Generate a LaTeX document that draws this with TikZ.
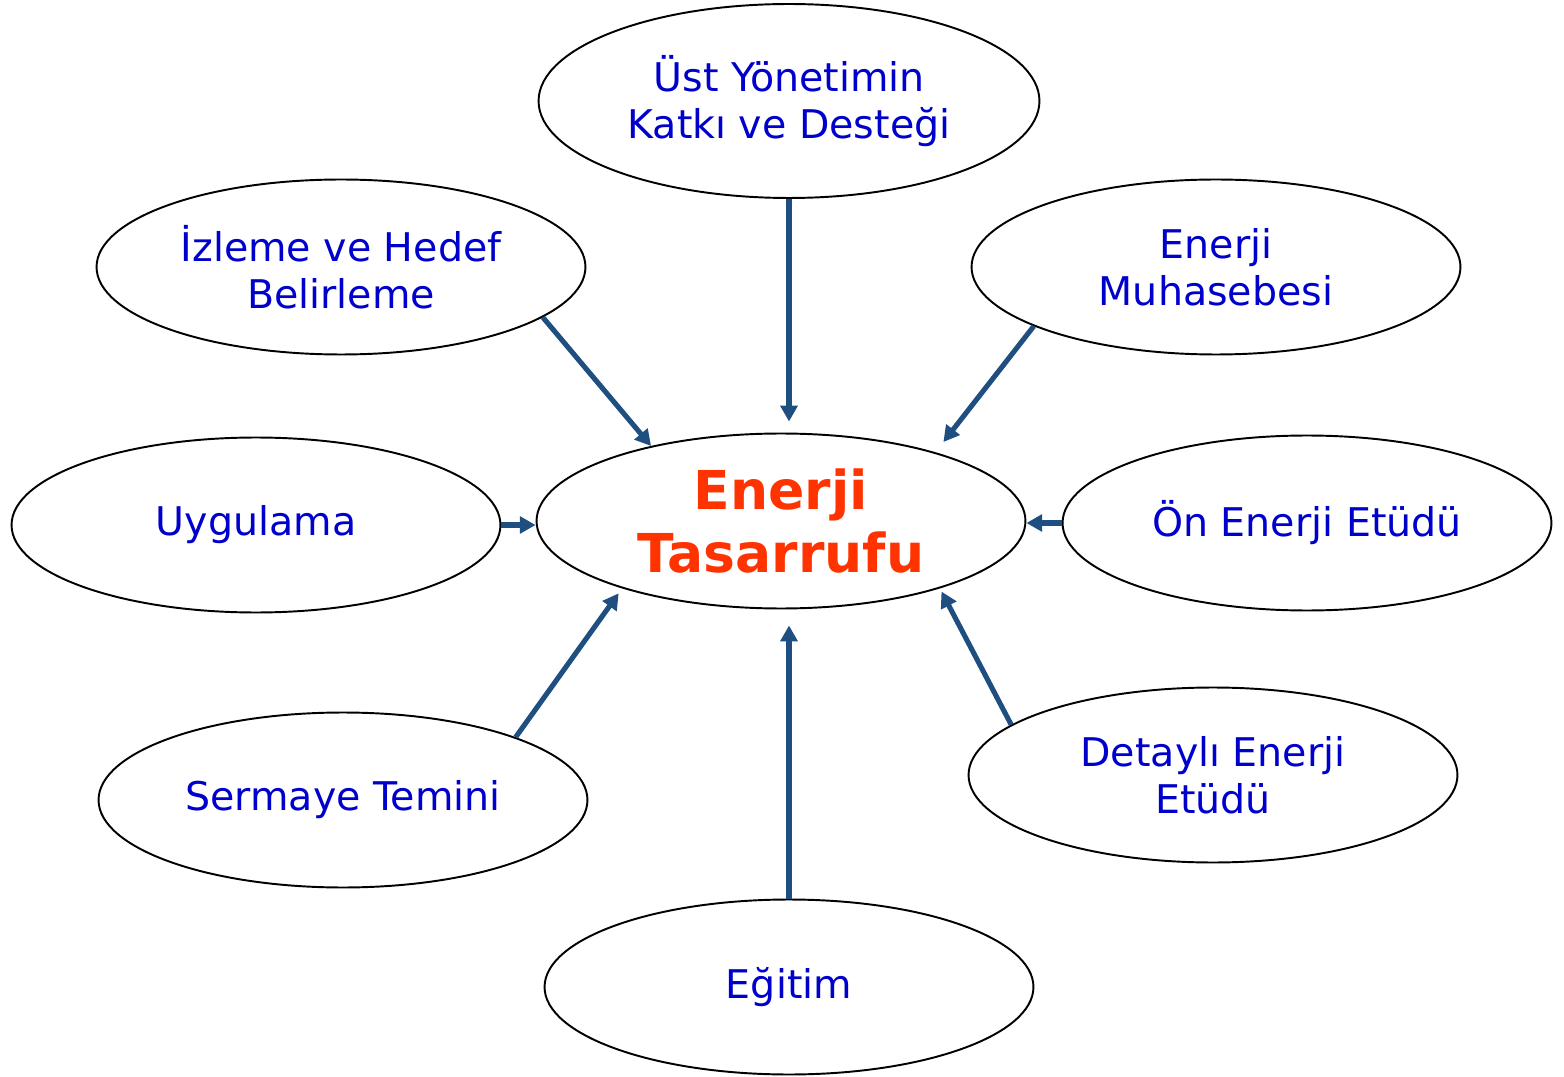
\documentclass[tikz,border=0pt]{standalone}
\usepackage{fontspec}
\setmainfont{DejaVu Sans}
\usepackage{tikz}
\usetikzlibrary{shapes,arrows.meta}
\usepackage{color}
\definecolor{textblue}{RGB}{0,0,204}
\definecolor{titlered}{RGB}{255,51,0}
\definecolor{arrowblue}{RGB}{31,78,128}

\begin{document}
\begin{tikzpicture}[x=0.02cm,y=0.02cm,
                    oval/.style={ellipse, draw=black, line width=1.1pt, inner sep=0pt,
                      minimum width=9.78cm, minimum height=3.5cm, align=center,
                      text=textblue, font=\fontsize{22.5}{27}\selectfont},
                    pfeil/.style={draw=arrowblue, line width=2.9pt,
                      -{Triangle[length=9pt,width=9.5pt]}}]
                   % Sizes
                   \useasboundingbox (0,0) rectangle (1564,1076);

                   % nodes
                   \node[oval, font=\fontsize{30.5}{36}\selectfont\bfseries, text=titlered]
                       (enr) at (781,555) {Enerji\\Tasarrufu};
                   \node[oval, minimum width=10.02cm, minimum height=3.88cm]
                       (ust) at (789,975) {Üst Yönetimin\\Katkı ve Desteği};
                   \node[oval] (izl) at (341,809) {İzleme ve Hedef\\Belirleme};
                   \node[oval] (muh) at (1216,809) {Enerji\\Muhasebesi};
                   \node[oval] (uyg) at (256,551) {Uygulama};
                   \node[oval] (oen) at (1307,553) {Ön Enerji Etüdü};
                   \node[oval] (ser) at (343,276) {Sermaye Temini};
                   \node[oval] (det) at (1213,301) {Detaylı Enerji\\Etüdü};
                   \node[oval] (egi) at (789,89) {Eğitim};

                   % draw arrows
                   \draw[pfeil, shorten >=0.22cm] (ust.south) -- (ust.south |- enr.north);
                   \draw[pfeil] (izl.-14) -- (enr.150);
                   \draw[pfeil, shorten >=0.26cm] (muh.198) -- (enr.24);
                   \draw[pfeil] (uyg.east) -- (uyg.east -| enr.west);
                   \draw[pfeil] (oen.west) -- (oen.west -| enr.east);
                   \draw[pfeil, shorten >=0.12cm] (ser.20) -- (enr.203);
                   \draw[pfeil, shorten >=0.07cm] (det.166) -- (enr.-23);
                   \draw[pfeil, shorten >=0.32cm] (egi.north) -- (egi.north |- enr.south);
\end{tikzpicture}
\end{document}
